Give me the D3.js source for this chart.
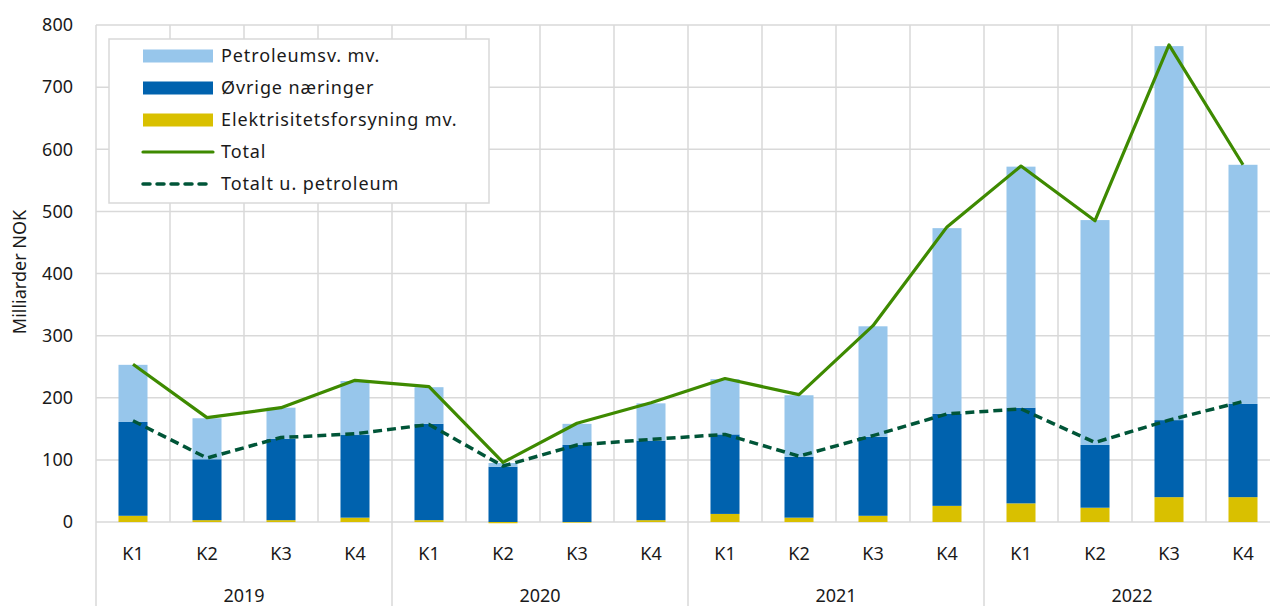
<!DOCTYPE html>
<html>
<head>
<meta charset="utf-8">
<script src="https://cdn.jsdelivr.net/npm/d3@7"></script>
<style>
  body { margin: 0; background: #fff; }
  text { font-family: "Noto Sans", "Open Sans", sans-serif; fill: #1a1a1a; font-size: 18px; }
</style>
</head>
<body>
<svg></svg>
<script>
const width = 1270;
const height = 606;

// data (milliarder NOK)
const years = ["2019", "2020", "2021", "2022"];
const quarters = ["K1", "K2", "K3", "K4"];
const petroleum = [92, 66, 50, 87, 59, 6, 34, 60, 89, 99, 178, 299, 388, 362, 602, 385];
const ovrige = [151, 98, 131, 133, 155, 89, 124, 128, 128, 98, 127, 148, 154, 101, 124, 150];
const elektrisitet = [10, 3, 3, 7, 3, -2, -1, 3, 13, 7, 10, 26, 30, 23, 40, 40];
const total = [254, 168, 184, 228, 218, 96, 159, 192, 231, 205, 316, 475, 573, 485, 768, 575];
const utenPetroleum = [163, 103, 136, 142, 157, 90, 124, 133, 141, 106, 139, 174, 182, 128, 164, 194];
const yTicks = [0, 100, 200, 300, 400, 500, 600, 700, 800];

const colors = {
  petroleum: "#97c6eb",
  ovrige: "#0062ae",
  elektrisitet: "#d9c000",
  total: "#3e8a00",
  uten: "#005538"
};

const categories = [];
years.forEach(y => quarters.forEach(q => categories.push({ year: y, q: q })));

const rows = categories.map((c, i) => ({
  i: i,
  elektrisitet: elektrisitet[i],
  ovrige: ovrige[i],
  petroleum: petroleum[i]
}));

const svg = d3.select("svg")
  .attr("width", width)
  .attr("height", height);

const plotLeft = 96, plotRight = 1280, plotTop = 25, plotBottom = 522;

const x = d3.scaleBand()
  .domain(d3.range(categories.length))
  .range([plotLeft, plotRight])
  .paddingInner(0.608)
  .paddingOuter(0.304);

const step = x.step();

const y = d3.scaleLinear()
  .domain([0, 800])
  .range([plotBottom, plotTop]);

const grid = svg.append("g").attr("stroke", "#d9d9d9").attr("stroke-width", 1.5);

// horizontal gridlines
grid.selectAll("line.h")
  .data(yTicks)
  .enter()
  .append("line")
  .attr("x1", plotLeft)
  .attr("x2", plotRight)
  .attr("y1", d => y(d))
  .attr("y2", d => y(d));

// vertical gridlines between categories, year separators run down past the labels
grid.selectAll("line.v")
  .data(d3.range(categories.length + 1))
  .enter()
  .append("line")
  .attr("x1", d => plotLeft + d * step)
  .attr("x2", d => plotLeft + d * step)
  .attr("y1", y(800))
  .attr("y2", d => (d % 4 === 0) ? height : y(0));

// y tick labels
svg.append("g").selectAll("text")
  .data(yTicks)
  .enter()
  .append("text")
  .attr("x", 73)
  .attr("y", d => y(d))
  .attr("dy", "0.35em")
  .attr("text-anchor", "end")
  .text(d => d);

svg.append("text")
  .attr("transform", "translate(20,272) rotate(-90)")
  .attr("text-anchor", "middle")
  .attr("dy", "0.35em")
  .text("Milliarder NOK");

// stacked bars
const keys = ["elektrisitet", "ovrige", "petroleum"];
const stack = d3.stack().keys(keys).offset(d3.stackOffsetDiverging);
const series = stack(rows);

svg.append("g").selectAll("g")
  .data(series)
  .enter()
  .append("g")
  .attr("fill", d => colors[d.key])
  .selectAll("rect")
  .data(d => d)
  .enter()
  .append("rect")
  .attr("x", d => x(d.data.i))
  .attr("width", x.bandwidth())
  .attr("y", d => y(Math.max(d[0], d[1])))
  .attr("height", d => Math.abs(y(d[0]) - y(d[1])));

// lines
const cx = i => x(i) + x.bandwidth() / 2;

svg.append("path")
  .datum(total)
  .attr("fill", "none")
  .attr("stroke", colors.total)
  .attr("stroke-width", 3.2)
  .attr("stroke-linejoin", "round")
  .attr("d", d3.line().x((d, i) => cx(i)).y(d => y(d)));

svg.append("path")
  .datum(utenPetroleum)
  .attr("fill", "none")
  .attr("stroke", colors.uten)
  .attr("stroke-width", 3.5)
  .attr("stroke-dasharray", "9,5")
  .attr("stroke-linejoin", "round")
  .attr("d", d3.line().x((d, i) => cx(i)).y(d => y(d)));

// category labels
svg.append("g").selectAll("text")
  .data(categories)
  .enter()
  .append("text")
  .attr("x", (d, i) => cx(i))
  .attr("y", 554)
  .attr("dy", "0.35em")
  .attr("text-anchor", "middle")
  .text(d => d.q);

svg.append("g").selectAll("text")
  .data(years)
  .enter()
  .append("text")
  .attr("x", (d, i) => plotLeft + (i * 4 + 2) * step)
  .attr("y", 596)
  .attr("dy", "0.35em")
  .attr("text-anchor", "middle")
  .text(d => d);

// legend
const legendItems = [
  { label: "Petroleumsv. mv.", type: "rect", color: colors.petroleum },
  { label: "Øvrige næringer", type: "rect", color: colors.ovrige },
  { label: "Elektrisitetsforsyning mv.", type: "rect", color: colors.elektrisitet },
  { label: "Total", type: "line", color: colors.total },
  { label: "Totalt u. petroleum", type: "dash", color: colors.uten }
];

const legend = svg.append("g");
legend.append("rect")
  .attr("x", 109)
  .attr("y", 39)
  .attr("width", 380)
  .attr("height", 164)
  .attr("fill", "#fff")
  .attr("stroke", "#d9d9d9")
  .attr("stroke-width", 1.5);

const item = legend.selectAll("g.item")
  .data(legendItems)
  .enter()
  .append("g")
  .attr("class", "item")
  .attr("transform", (d, i) => `translate(0,${56 + i * 32})`);

item.filter(d => d.type === "rect")
  .append("rect")
  .attr("x", 143)
  .attr("y", -6.5)
  .attr("width", 70)
  .attr("height", 13)
  .attr("fill", d => d.color);

item.filter(d => d.type !== "rect")
  .append("line")
  .attr("x1", 143)
  .attr("x2", 213)
  .attr("stroke", d => d.color)
  .attr("stroke-width", d => d.type === "dash" ? 3.5 : 3.2)
  .attr("stroke-linecap", "round")
  .attr("stroke-dasharray", d => d.type === "dash" ? "7,7" : null);

item.append("text")
  .attr("x", 221)
  .attr("dy", "0.35em")
  .style("letter-spacing", "0.9px")
  .text(d => d.label);
</script>
</body>
</html>
